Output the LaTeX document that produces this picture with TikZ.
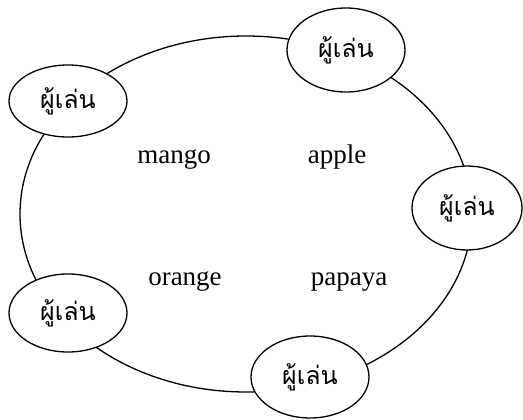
\documentclass[tikz,border=0pt]{standalone}
\usepackage{fontspec}
\setmainfont{Liberation Serif}
\newfontfamily\thaifont[Script=Thai]{Loma}
\usetikzlibrary{shapes.geometric}
\tikzset{
  ring/.style={draw, line width=1.3pt, ellipse, inner sep=0pt, minimum width=452pt, minimum height=356pt},
  player/.style={draw, line width=1.3pt, fill=white, ellipse, inner sep=0pt, font=\thaifont\fontsize{25}{28}\selectfont},
  fruit/.style={font=\fontsize{27}{30}\selectfont, inner sep=0pt, anchor=base}
}
\begin{document}
\begin{tikzpicture}[x=1pt,y=-1pt]
\useasboundingbox (0,0) rectangle (523,420);
\node[ring] (big) at (246,214) {};
\node[player, minimum width=118pt, minimum height=84pt] (p1) at (346,50) {ผู้เล่น};
\node[player, minimum width=118pt, minimum height=72pt] (p2) at (68,101) {ผู้เล่น};
\node[player, minimum width=110pt, minimum height=84pt] (p3) at (467,208) {ผู้เล่น};
\node[player, minimum width=118pt, minimum height=78pt] (p4) at (68,313) {ผู้เล่น};
\node[player, minimum width=118pt, minimum height=82pt] (p5) at (310,377) {ผู้เล่น};
\node[fruit] (mango) at (174,164) {mango};
\node[fruit] (apple) at (337,164) {apple};
\node[fruit] (orange) at (185,285) {orange};
\node[fruit] (papaya) at (349,285) {papaya};
\end{tikzpicture}
\end{document}
